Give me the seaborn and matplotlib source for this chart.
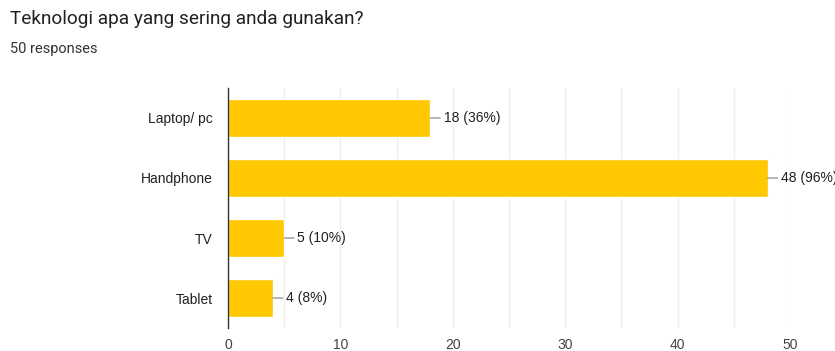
import matplotlib
matplotlib.use("Agg")
import matplotlib.pyplot as plt
import seaborn as sns
import pandas as pd

categories = ["Laptop/ pc", "Handphone", "TV", "Tablet"]
counts = [18, 48, 5, 4]
percents = ["36%", "96%", "10%", "8%"]
total_responses = 50
title = "Teknologi apa yang sering anda gunakan?"

df = pd.DataFrame({"cat": categories, "n": counts})

sns.set_theme(style="white")
plt.rcParams["font.family"] = ["Liberation Sans", "DejaVu Sans"]

fig = plt.figure(figsize=(8.35, 3.51), dpi=100)
ax = fig.add_axes([228/835, 23/351, 562/835, 240/351])

sns.barplot(data=df, y="cat", x="n", color="#ffc800", saturation=1,
            width=0.62, ax=ax, orient="h")

ax.set_xlim(0, 50)
ax.set_xticks(range(0, 51, 10))
ax.set_xticks(range(5, 50, 10), minor=True)
ax.grid(axis="x", which="both", color="#eeeeee", linewidth=1)
ax.set_axisbelow(True)
for s in ["top", "right", "bottom"]:
    ax.spines[s].set_visible(False)
ax.spines["left"].set_color("#333333")
ax.spines["left"].set_linewidth(1)
ax.set_xlabel("")
ax.set_ylabel("")
ax.tick_params(axis="both", length=0, labelsize=10, colors="#222222")
ax.tick_params(axis="x", pad=7, colors="#444444")
ax.tick_params(axis="y", pad=11)

for i, (v, p) in enumerate(zip(counts, percents)):
    ax.annotate(f"{v} ({p})", xy=(v, i), xytext=(9.5, 0),
                textcoords="offset points", va="center", ha="left",
                fontsize=10, color="#222222", annotation_clip=False,
                arrowprops=dict(arrowstyle="-", color="#999999", lw=1,
                                shrinkA=0, shrinkB=0))

fig.text(10/835, 1 - 19/351, title, fontsize=13.7, color="#212121",
         va="center", ha="left", family=["Roboto", "DejaVu Sans"])
fig.text(10/835, 1 - 49/351, f"{total_responses} responses", fontsize=10.5,
         color="#333333", va="center", ha="left", family=["Roboto", "DejaVu Sans"])

fig.savefig("out.png", dpi=100)
